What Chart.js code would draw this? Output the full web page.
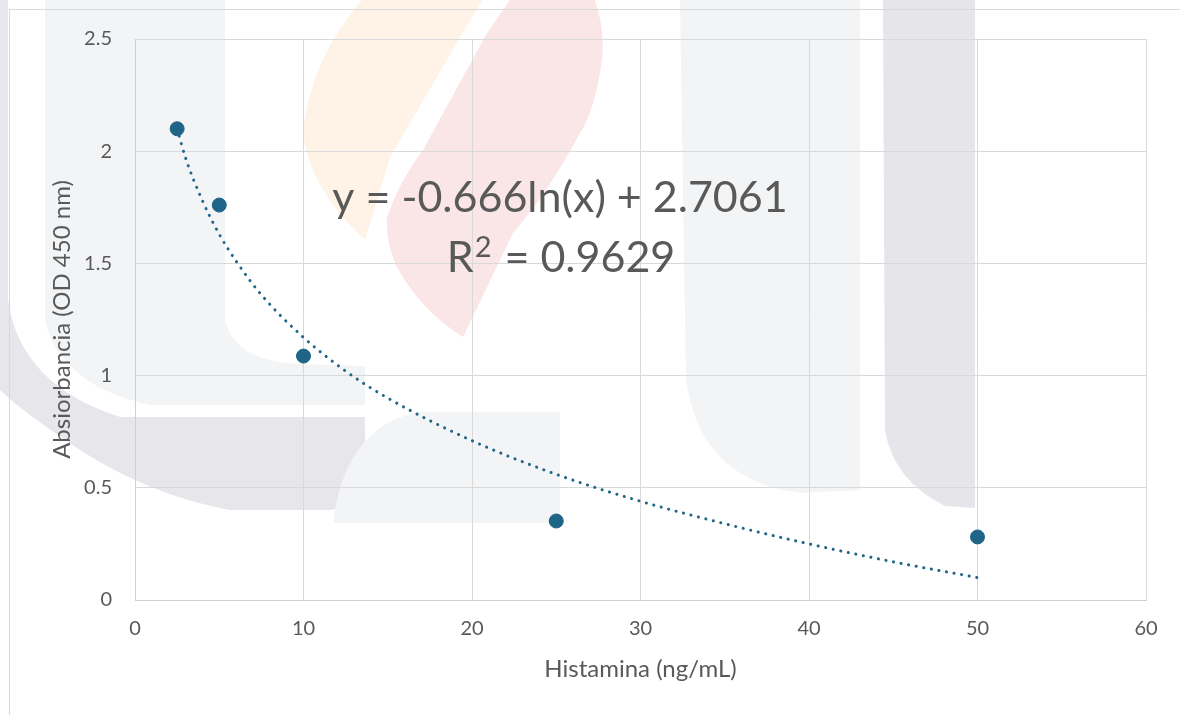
<!DOCTYPE html>
<html lang="es">
<head>
    <meta charset="UTF-8">
    <title>Histamina</title>
    <script src="https://cdn.jsdelivr.net/npm/chart.js"></script>
    <style>
        body { margin: 0; background: #fff; }
        #wrap { position: relative; width: 1180px; height: 715px; overflow: hidden; }
        #mark, #frame, #myChart { position: absolute; left: 0; top: 0; }
        #frame { left: 9px; top: 9px; width: 1300px; height: 900px; border: 1px solid #d9d9d9; }
    </style>
</head>
<body>
<div id="wrap">
    <!-- faint watermark behind the chart -->
    <svg id="mark" width="1180" height="715">
        <rect x="0" y="0" width="8" height="300" fill="#e6e6eb"/>
        <path fill="#e6e6eb" d="M0,300 H8 Q20,385 120,417 L365,417 L365,480 Q360,505 330,510 L230,510 Q150,495 80,450 Q20,410 0,390 Z"/>
        <path fill="#f3f4f6" d="M45,0 H225 V320 Q235,362 300,364 L365,366 L365,405 L150,405 Q60,385 45,320 Z"/>
        <path fill="#f3f4f6" d="M333,523 Q345,425 420,412 L560,412 L560,523 Z"/>
        <path fill="#f3f4f6" d="M680,0 H860 V490 L800,493 Q700,480 686,380 Z"/>
        <path fill="#e5e5ea" d="M883,0 H975 V508 L945,506 Q893,480 885,430 Z"/>
        <path fill="#fef3e6" d="M362,0 H482 L390,157 L365,240 Q310,190 303,133 Q310,60 362,0 Z"/>
        <path fill="#fae6e7" d="M510,0 H595 Q605,30 602,60 Q595,110 580,133 Q550,190 513,233 L463,337 Q420,310 397,267 Q385,240 387,217 Q400,180 423,150 L487,33 Z"/>
    </svg>
    <div id="frame"></div>
    <canvas id="myChart" width="1180" height="715"></canvas>
</div>
<script>
    // measured points
    const histamina = [2.5, 5, 10, 25, 50];
    const absorbancia = [2.10, 1.76, 1.087, 0.352, 0.281];

    // logarithmic trendline
    const trendX = [2.5, 3, 4, 5, 6, 7.5, 10, 12.5, 15, 20, 25, 30, 35, 40, 45, 50];
    const trendY = [2.10, 1.97, 1.78, 1.63, 1.51, 1.36, 1.17, 1.02, 0.90, 0.71, 0.56, 0.44, 0.34, 0.25, 0.17, 0.10];

    const xTicks = [0, 10, 20, 30, 40, 50, 60];
    const yTicks = [0, 0.5, 1, 1.5, 2, 2.5];

    const equation = 'y = -0.666ln(x) + 2.7061';
    const rParts = ['R', '2', ' = 0.9629'];

    const textGray = '#595959';
    const pointBlue = '#1f6587';

    const equationLabel = {
        id: 'equationLabel',
        afterDraw(chart) {
            const ctx = chart.ctx;
            const area = chart.chartArea;
            const cx = area.left + 426;
            ctx.save();
            ctx.fillStyle = textGray;
            ctx.textBaseline = 'alphabetic';
            ctx.textAlign = 'center';
            ctx.font = '43px Lato';
            ctx.fillText(equation, cx - 1, area.top + 173);

            // R² line, superscript drawn a bit larger like the original
            ctx.textAlign = 'left';
            const big = '43px Lato', small = '29px Lato';
            ctx.font = big;
            const w0 = ctx.measureText(rParts[0]).width;
            const w2 = ctx.measureText(rParts[2]).width;
            ctx.font = small;
            const w1 = ctx.measureText(rParts[1]).width + 3;
            let x = cx - (w0 + w1 + w2) / 2;
            const base = area.top + 233;
            ctx.font = big;
            ctx.fillText(rParts[0], x, base);
            x += w0 + 1;
            ctx.font = small;
            ctx.fillText(rParts[1], x, base - 15);
            x += w1 - 1;
            ctx.font = big;
            ctx.fillText(rParts[2], x, base);
            ctx.restore();
        }
    };

    const ctx = document.getElementById('myChart').getContext('2d');
    new Chart(ctx, {
        type: 'scatter',
        data: {
            datasets: [{
                label: 'Absorbancia',
                data: histamina.map((x, i) => ({ x: x, y: absorbancia[i] })),
                backgroundColor: pointBlue,
                borderColor: pointBlue,
                pointRadius: 7,
                pointHoverRadius: 7,
                order: 1
            }, {
                label: 'Tendencia',
                type: 'line',
                data: trendX.map((x, i) => ({ x: x, y: trendY[i] })),
                borderColor: pointBlue,
                borderWidth: 3,
                borderDash: [0.1, 7.6],
                borderCapStyle: 'round',
                pointRadius: 0,
                fill: false,
                cubicInterpolationMode: 'monotone',
                order: 2
            }]
        },
        options: {
            responsive: false,
            animation: false,
            layout: { padding: { left: 0, top: 39, right: 34, bottom: 0 } },
            plugins: { legend: { display: false }, tooltip: { enabled: false } },
            scales: {
                x: {
                    type: 'linear',
                    min: 0, max: 60,
                    afterBuildTicks: s => { s.ticks = xTicks.map(v => ({ value: v })); },
                    afterFit: s => { s.height = 115; },
                    grid: { color: '#d9d9d9', drawTicks: false },
                    border: { color: '#d0d0d0' },
                    ticks: { color: textGray, font: { family: 'Lato', size: 20 }, padding: 17, callback: v => String(v) },
                    title: {
                        display: true, text: 'Histamina (ng/mL)', color: textGray,
                        font: { family: 'Lato', size: 24 }, padding: { top: 4, bottom: 31 }
                    }
                },
                y: {
                    min: 0, max: 2.5,
                    afterBuildTicks: s => { s.ticks = yTicks.map(v => ({ value: v })); },
                    afterFit: s => { s.width = 135; },
                    grid: { color: '#d9d9d9', drawTicks: false },
                    border: { color: '#d0d0d0' },
                    ticks: { color: textGray, font: { family: 'Lato', size: 20 }, padding: 23, callback: v => String(v) },
                    title: {
                        display: true, text: 'Absiorbancia (OD 450 nm)', color: textGray,
                        font: { family: 'Lato', size: 24 }, padding: { top: 48, bottom: 4 }
                    }
                }
            }
        },
        plugins: [equationLabel]
    });
</script>
</body>
</html>
